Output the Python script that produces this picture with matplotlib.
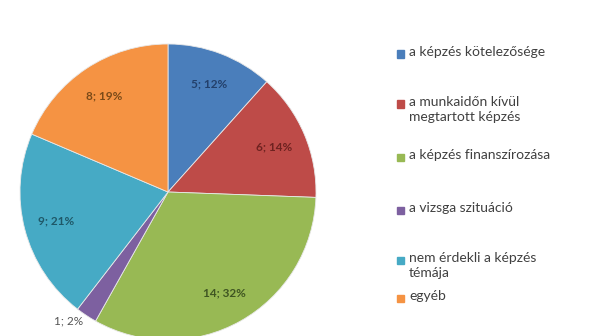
import numpy as np
import matplotlib.pyplot as plt
from matplotlib.patches import Rectangle

categories = ['a képzés kötelezősége', 'a munkaidőn kívül\nmegtartott képzés',
              'a képzés finanszírozása', 'a vizsga szituáció',
              'nem érdekli a képzés\ntémája', 'egyéb']
counts = [5, 6, 14, 1, 9, 8]
pct_labels = ['5; 12%', '6; 14%', '14; 32%', '1; 2%', '9; 21%', '8; 19%']
colors = ['#4A7EBB', '#BE4B48', '#98B954', '#7D60A0', '#46AAC5', '#F59343']
text_colors = ['#23406b', '#6e2220', '#3f5522', '#555555', '#1f5868', '#7a4a18']

plt.rcParams['font.family'] = ['Lato', 'DejaVu Sans']

W, H = 591, 336
fig = plt.figure(figsize=(W / 100, H / 100), dpi=100)

# pie centre and radius in pixels
cx, cy, r = 168, 192, 148
ax = fig.add_axes([(cx - r) / W, (H - cy - r) / H, 2 * r / W, 2 * r / H])
wedges, texts = ax.pie(counts, colors=colors, startangle=90, counterclock=False,
                       labels=pct_labels, labeldistance=0.78, radius=1,
                       wedgeprops=dict(edgecolor='#e8e8e8', linewidth=0.6),
                       textprops=dict(ha='center', va='center', fontsize=8.5,
                                      fontweight='bold'))
for t, c in zip(texts, text_colors):
    t.set_color(c)

# the small slice gets its label outside
w = wedges[3]
mid = np.deg2rad((w.theta1 + w.theta2) / 2 - 4)
texts[3].set_position((1.1 * np.cos(mid), 1.1 * np.sin(mid)))
texts[3].set_fontweight('normal')

ax.set_xlim(-1, 1)
ax.set_ylim(-1, 1)
ax.set_aspect('equal')
ax.axis('off')

# legend drawn by hand
legend_y = [54, 104, 157, 210, 260, 298]
for lab, col, y in zip(categories, colors, legend_y):
    fig.patches.append(Rectangle((397 / W, (H - y - 3.5) / H), 7 / W, 7 / H,
                                 transform=fig.transFigure, color=col))
    fig.text(409 / W, (H - y + 8) / H, lab, fontsize=10, color='#404040',
             va='top', ha='left', linespacing=1.3)

fig.savefig('out.png', dpi=100)
